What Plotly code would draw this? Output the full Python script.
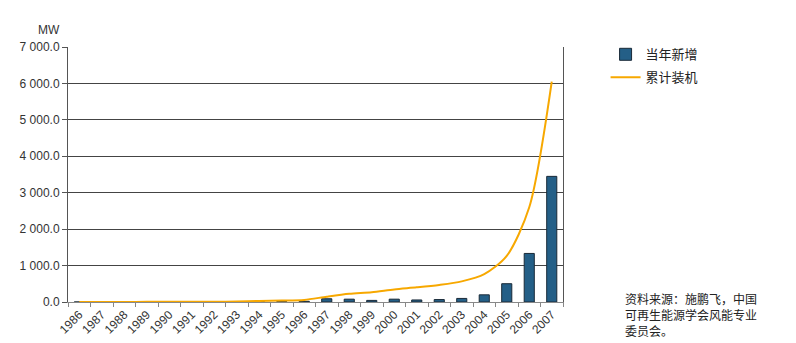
import plotly.graph_objects as go

years = [str(y) for y in range(1986, 2008)]
new_mw = [0.1, 0.2, 0.5, 3.4, 0.1, 0.7, 3.0, 6.0, 16.0, 8.0, 19.0, 89.0, 78.0, 44.0, 78.0, 56.0, 67.0, 98.0, 197.0, 502.0, 1333.0, 3449.0]
cum_mw = [0.1, 0.3, 0.8, 4.2, 4.3, 5.0, 8.0, 14.0, 30.0, 38.0, 57.0, 146.0, 224.0, 268.0, 346.0, 402.0, 469.0, 567.0, 764.0, 1266.0, 2599.0, 6050.0]
ytick_vals = [0, 1000, 2000, 3000, 4000, 5000, 6000, 7000]
ytick_text = ["0.0", "1 000.0", "2 000.0", "3 000.0", "4 000.0", "5 000.0", "6 000.0", "7 000.0"]
series_names = ["当年新增", "累计装机"]
source_lines = ["资料来源：施鹏飞，中国", "可再生能源学会风能专业", "委员会。"]

fig = go.Figure()
fig.add_trace(go.Bar(
    x=years, y=new_mw, name=series_names[0], legendgroup="a",
    marker=dict(color="#245f87", line=dict(color="#1a2a38", width=1)),
))
fig.add_trace(go.Scatter(
    x=years, y=cum_mw, name=series_names[1], mode="lines", legendgroup="b",
    line=dict(color="#f7a800", width=2, shape="spline", smoothing=0.8),
))

annotations = [
    dict(text="MW", xref="paper", yref="paper", x=-0.012, y=1.067,
         xanchor="right", yanchor="middle", showarrow=False,
         font=dict(size=12, color="#333333")),
]
for i, line in enumerate(source_lines):
    annotations.append(dict(
        text=line, xref="paper", yref="paper", x=1.121,
        y=(302 - 298 - 16 * i) / 255.0,
        xanchor="left", yanchor="middle", showarrow=False, align="left",
        font=dict(family="Noto Sans CJK SC", size=12, color="#222222")))

fig.update_layout(
    width=796, height=343,
    margin=dict(l=68, r=233, t=47, b=41),
    paper_bgcolor="white", plot_bgcolor="white",
    bargap=0.55,
    font=dict(family="Liberation Sans, Arial, sans-serif", color="#333333", size=12),
    legend=dict(x=1.086, y=1.03, xanchor="left", yanchor="top",
                font=dict(family="Noto Sans CJK SC", size=13, color="#222222"),
                tracegroupgap=3, itemwidth=30),
    xaxis=dict(
        type="category", tickangle=-45, tickson="boundaries",
        ticks="outside", ticklen=4, tickcolor="#888888",
        showline=True, linecolor="#888888", linewidth=1,
        showgrid=False, tickfont=dict(size=12, color="#333333"),
        automargin=False,
    ),
    yaxis=dict(
        range=[0, 7000], tickvals=ytick_vals, ticktext=ytick_text,
        ticks="outside", ticklen=5, tickcolor="#555555",
        showline=True, linecolor="#555555", linewidth=1, mirror=True,
        showgrid=True, gridcolor="#444444", gridwidth=1,
        zeroline=False, tickfont=dict(size=12, color="#333333"),
        automargin=False,
    ),
    annotations=annotations,
)

fig.write_html("out.html")
